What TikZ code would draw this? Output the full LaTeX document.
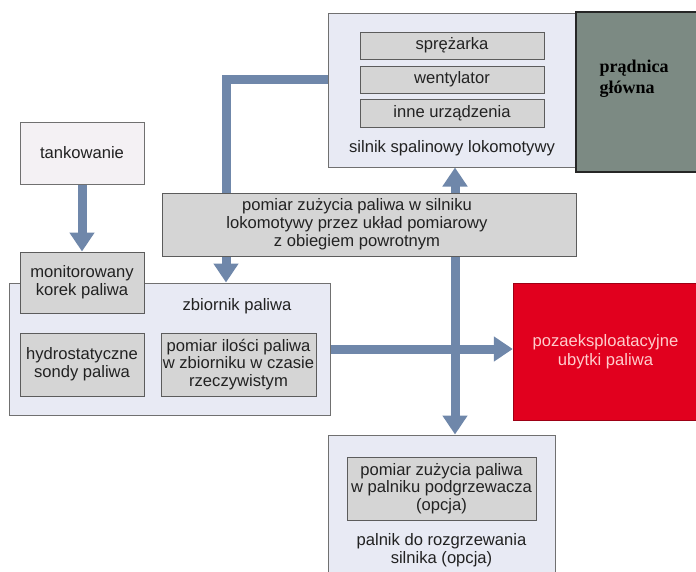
\documentclass[tikz,border=0pt]{standalone}
\usepackage{fontspec}
\setmainfont{Liberation Sans}
\newfontfamily\serifbf{Liberation Serif}
\usetikzlibrary{arrows.meta}
\definecolor{lav}{HTML}{E8EAF4}
\definecolor{frame}{HTML}{707070}
\definecolor{boxgray}{HTML}{D5D5D5}
\definecolor{boxframe}{HTML}{5C5C5C}
\definecolor{pipeblue}{HTML}{6F87AA}
\definecolor{lossred}{HTML}{E1001E}
\definecolor{gen}{HTML}{7C8A83}
\definecolor{pale}{HTML}{F4F1F4}
\definecolor{ink}{HTML}{222222}
\begin{document}
\begin{tikzpicture}[x=1pt,y=-1pt,font=\fontsize{16.6}{17.8}\selectfont,
  outer/.style={draw=frame,fill=lav,line width=1pt,inner sep=0pt},
  inbox/.style={draw=boxframe,fill=boxgray,line width=1pt,align=center,text=ink,inner sep=0pt},
  txt/.style={align=center,text=ink},
  pipe/.style={draw=pipeblue,line width=9pt},
  flow/.style={pipe,-{Triangle[width=24pt,length=19pt]}}]

\useasboundingbox (0,0) rectangle (696,571);

\begin{scope}
\node[outer,minimum width=248pt,minimum height=154pt] (silnik) at (452,90) {};
\node[inbox,minimum width=184pt,minimum height=27pt] (sprezarka) at (452,45.5) {sprężarka};
\node[inbox,minimum width=184pt,minimum height=27pt] (wentylator) at (452,79.5) {wentylator};
\node[inbox,minimum width=184pt,minimum height=28pt] (inne) at (452,113) {inne urządzenia};
\node[txt] (silnikopis) at (452,148) {silnik spalinowy lokomotywy};

\node[draw=black!85,fill=gen,line width=1.3pt,minimum width=122pt,minimum height=160pt] (pradnica) at (637,92) {};
\node[align=left,anchor=west,font=\serifbf\bfseries\fontsize{18}{21}\selectfont] (pradnicaopis) at (596,79) {prądnica\\główna};
\end{scope}

\node[draw=frame,fill=pale,line width=1pt,minimum width=124pt,minimum height=62pt,text=ink] (tank) at (82,153) {tankowanie};

\begin{scope}
\node[outer,minimum width=321pt,minimum height=132pt] (zbiornik) at (169.5,349) {};
\node[txt] (zbiornikopis) at (237,306) {zbiornik paliwa};
\node[inbox,minimum width=124pt,minimum height=61pt] (korek) at (82,282.5) {monitorowany\\korek paliwa};
\node[inbox,minimum width=124pt,minimum height=63pt] (sondy) at (82,364.5) {hydrostatyczne\\sondy paliwa};
\node[inbox,minimum width=155pt,minimum height=63pt] (ilosc) at (238.5,364.5) {pomiar ilości paliwa\\w zbiorniku w czasie\\rzeczywistym};
\end{scope}

\node[inbox,minimum width=414pt,minimum height=63pt] (obieg) at (369,224.5) {};
\node[txt] (obiegopis) at (357,224.5) {pomiar zużycia paliwa w silniku\\lokomotywy przez układ pomiarowy\\z obiegiem powrotnym};

\node[draw=lossred!70!black,fill=lossred,minimum width=185pt,minimum height=137pt,align=center,text=red!20,font=\fontsize{16.6}{19}\selectfont] (straty) at (605.5,351.5) {pozaeksploatacyjne\\ubytki paliwa};

\begin{scope}
\node[outer,minimum width=227pt,minimum height=145pt] (palnik) at (441.5,507.5) {};
\node[inbox,minimum width=189pt,minimum height=63pt] (palnikpomiar) at (441.5,488.5) {pomiar zużycia paliwa\\w palniku podgrzewacza\\(opcja)};
\node[txt] (palnikopis) at (441.5,550) {palnik do rozgrzewania\\silnika (opcja)};
\end{scope}

\coordinate (powrot) at (226,0);
\coordinate (pion) at (455,0);

\draw[flow] (tank) -- (korek);
\draw[pipe] (wentylator -| silnik.west) -| (powrot |- obieg.north);
\draw[flow] (powrot |- obieg.south) -- (powrot |- zbiornik.north);
\draw[flow] (pion |- obieg.north) -- (pion |- silnik.south);
\draw[flow] (pion |- obieg.south) -- (pion |- palnik.north);
\draw[flow] (zbiornik.east) -- (zbiornik.east -| straty.west);

\end{tikzpicture}
\end{document}
